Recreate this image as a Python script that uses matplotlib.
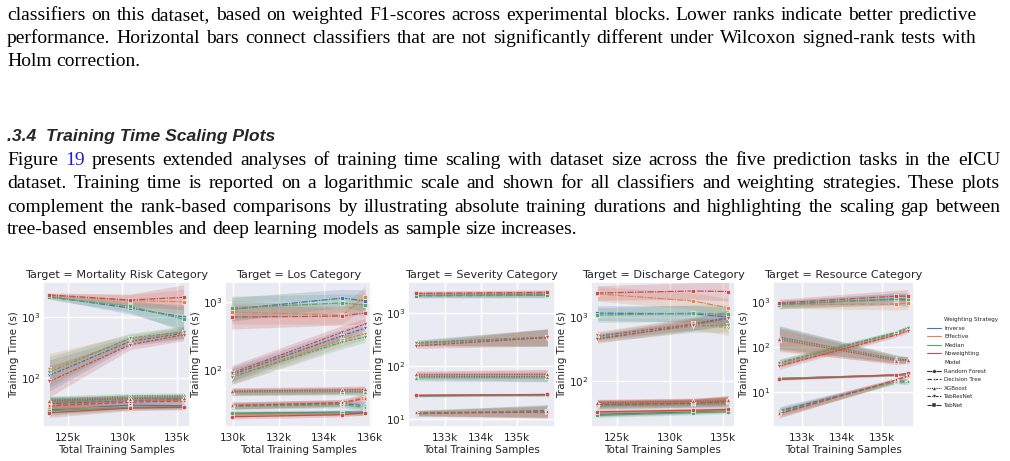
import matplotlib
matplotlib.use("Agg")
import matplotlib.pyplot as plt
import seaborn as sns
from matplotlib.lines import Line2D
from matplotlib.ticker import FuncFormatter

# ---- data ----
weightings = ["Inverse", "Effective", "Median", "Noweighting"]
models = ["Random Forest", "Decision Tree", "XGBoost", "TabResNet", "TabNet"]
targets = ["Mortality Risk Category", "Los Category", "Severity Category",
           "Discharge Category", "Resource Category"]

# Mortality
mort_x = [123.3e3, 130.7e3, 135.6e3]
mort_rf = [[30, 36, 35], [32, 33, 34], [29, 33, 34], [27, 32, 33]]
mort_dt = [[38, 42, 44], [36, 41, 43], [40, 45, 46], [35, 40, 42]]
mort_xgb = [[43, 48, 49], [41, 47, 48], [44, 51, 52], [42, 46, 47]]
mort_resnet = [[110, 400, 540], [140, 430, 560], [125, 450, 570], [88, 350, 510]]
mort_tabnet = [[2150, 1400, 1000], [2250, 1850, 1780], [2100, 1500, 920], [2300, 1900, 2100]]
mort_spread = [[1.2, 1.1, 1.1], [1.2, 1.1, 1.15], [1.15, 1.1, 1.1], [1.8, 1.2, 1.25], [1.08, 1.25, 1.6]]

# Los
los_x = [129.95e3, 134.8e3, 135.8e3]
los_rf = [[23, 24, 24], [22, 23, 23.5], [23, 23.5, 23], [20.5, 22, 23.5]]
los_dt = [[30, 32, 30], [30, 33, 40], [29, 31, 28], [30, 33, 38]]
los_xgb = [[48, 49, 48], [47, 50, 51], [47, 48, 47], [49, 51, 52]]
los_resnet = [[85, 320, 415], [80, 280, 340], [79, 258, 305], [90, 360, 475]]
los_tabnet = [[780, 1140, 1040], [710, 640, 1190], [815, 970, 900], [600, 620, 690]]
los_spread = [[1.08, 1.08, 1.08], [1.12, 1.12, 1.15], [1.12, 1.12, 1.12], [1.3, 1.25, 1.2], [1.5, 1.35, 1.45]]

# Severity
sev_x = [132.2e3, 135.85e3]
sev_rf = [[27.5, 28.5], [28, 29], [27.5, 28.5], [28, 29]]
sev_dt = [[12.5, 14.5], [13, 13.5], [13.2, 14], [12.8, 13.5]]
sev_xgb = [[64, 63], [68, 70], [60, 61], [70, 70]]
sev_resnet = [[275, 350], [265, 345], [270, 340], [240, 345]]
sev_tabnet = [[2150, 2200], [2300, 2350], [2100, 2150], [2350, 2450]]
sev_spread = [[1.05, 1.05], [1.12, 1.3], [1.15, 1.22], [1.12, 1.45], [1.1, 1.12]]

# Discharge
dis_x = [123.16e3, 132.2e3, 135.5e3]
dis_rf = [[30, 33, 35], [32, 34, 35], [29, 32, 33], [33, 35, 36]]
dis_dt = [[42, 45, 47], [44, 46, 50], [41, 44, 46], [43, 45, 48]]
dis_xgb = [[45, 47, 49], [46, 48, 51], [44, 46, 48], [46, 48, 50]]
dis_resnet = [[500, 780, 980], [520, 800, 670], [470, 720, 750], [450, 760, 950]]
dis_tabnet = [[1150, 1120, 1000], [2300, 1780, 1380], [1070, 1150, 1100], [2370, 2550, 2500]]
dis_spread = [[1.08, 1.08, 1.08], [1.15, 1.15, 1.2], [1.12, 1.12, 1.15], [1.15, 1.25, 1.3], [1.3, 1.35, 1.4]]

# Resource
res_x = [132.43e3, 135.35e3, 135.65e3]
res_rf = [[20, 24, 25], [20, 24, 24.5], [20, 23.5, 24], [19, 24, 26]]
res_dt = [[3.8, 17.5, 17], [3.4, 18, 22], [3.6, 17, 16.5], [3.3, 18.5, 23]]
res_xgb = [[166, 54, 52], [140, 52, 50], [160, 55, 50], [150, 50, 52]]
res_resnet = [[44, 205, 265], [42, 195, 250], [45, 210, 270], [38, 185, 230]]
res_tabnet = [[900, 1150, 1100], [880, 900, 950], [860, 1200, 1150], [950, 1350, 1350]]
res_spread = [[1.05, 1.05, 1.05], [1.25, 1.12, 1.15], [1.8, 1.22, 1.18], [1.2, 1.12, 1.12], [1.22, 1.35, 1.4]]

panel_x = [mort_x, los_x, sev_x, dis_x, res_x]
panel_y = [[mort_rf, mort_dt, mort_xgb, mort_resnet, mort_tabnet],
           [los_rf, los_dt, los_xgb, los_resnet, los_tabnet],
           [sev_rf, sev_dt, sev_xgb, sev_resnet, sev_tabnet],
           [dis_rf, dis_dt, dis_xgb, dis_resnet, dis_tabnet],
           [res_rf, res_dt, res_xgb, res_resnet, res_tabnet]]
panel_spread = [mort_spread, los_spread, sev_spread, dis_spread, res_spread]
xticks = [[125e3, 130e3, 135e3], [130e3, 132e3, 134e3, 136e3], [133e3, 134e3, 135e3],
          [125e3, 130e3, 135e3], [133e3, 134e3, 135e3]]

# ---- style / layout ----
sns.set_theme(style="darkgrid")
plt.rcParams['font.family'] = ['DejaVu Sans']
colors = ["#4C72B0", "#DD8452", "#55A868", "#C44E52"]
markers = ['o', '*', '^', 'v', 's']
dashes = [None, (4, 1.5), (1, 1), (3, 1.25, 1.5, 1.25), (5, 1, 1, 1)]

W, H = 1010, 461
fig = plt.figure(figsize=(W / 100, H / 100), dpi=100)
fig.patch.set_facecolor('white')

ax_left = [43, 225, 408, 591, 773]
ax_right = [190, 372, 555, 735, 914]
xlims = [(122.71e3, 136.19e3), (129.65e3, 136.1e3), (131.97e3, 136.06e3),
         (122.55e3, 136.13e3), (132.27e3, 135.8e3)]
ylims = [(15.7, 3750), (14.5, 1968), (7.06, 3846), (19.1, 3524), (1.67, 2783)]
top, bottom = 282, 427

for p in range(5):
    ax = fig.add_axes([ax_left[p] / W, 1 - bottom / H,
                       (ax_right[p] - ax_left[p]) / W, (bottom - top) / H])
    xs = panel_x[p]
    for wi in range(4):
        for mi in range(5):
            ys = panel_y[p][mi][wi]
            sp = panel_spread[p][mi]
            ax.fill_between(xs, [v / s for v, s in zip(ys, sp)],
                            [v * s for v, s in zip(ys, sp)],
                            color=colors[wi], alpha=0.2, linewidth=0)
            ln, = ax.plot(xs, ys, color=colors[wi], lw=0.9, marker=markers[mi],
                          ms=3.2 if mi != 1 else 4, mec='white', mew=0.4)
            if dashes[mi] is not None:
                ln.set_dashes(dashes[mi])
    ax.set_yscale('log')
    ax.set_xlim(*xlims[p])
    ax.set_ylim(*ylims[p])
    ax.set_xticks(xticks[p])
    ax.xaxis.set_major_formatter(FuncFormatter(lambda v, _: f"{v / 1000:.0f}k"))
    ax.tick_params(labelsize=7.6, pad=2, length=0, which='both')
    ax.tick_params(axis='x', pad=4)
    ax.set_title(f"Target = {targets[p]}", fontsize=8.1, pad=3)
    ax.set_xlabel("Total Training Samples", fontsize=7.5, labelpad=1.5)
    ax.set_ylabel("Training Time (s)", fontsize=7.5, labelpad=1.5)

# legend
handles = [Line2D([], [], linestyle='none')]
labels = ["Weighting Strategy"]
for c, w in zip(colors, weightings):
    handles.append(Line2D([], [], color=c, lw=0.8))
    labels.append(w)
handles.append(Line2D([], [], linestyle='none'))
labels.append("Model")
for m, mk, d in zip(models, markers, dashes):
    h = Line2D([], [], color='.2', lw=0.8, marker=mk, ms=2.6, mec='white', mew=0.3)
    if d is not None:
        h.set_dashes(d)
    handles.append(h)
    labels.append(m)
fig.legend(handles, labels, loc='center left', bbox_to_anchor=(927 / W, 1 - 362.5 / H),
           frameon=False, fontsize=4.1, handlelength=2.4, handletextpad=0.6,
           labelspacing=0.62, borderaxespad=0, borderpad=0)

# ---- page text ----
r = fig.canvas.get_renderer()


def justify(words, x0, x1, ybase, size, family, justify_line=True, **kw):
    arts = []
    for w in words:
        color = 'black'
        if isinstance(w, tuple):
            w, color = w
        arts.append(fig.text(0, 1 - ybase / H, w, fontsize=size, family=family,
                             color=color, va='baseline', **kw))
    widths = [a.get_window_extent(r).width for a in arts]
    t1 = fig.text(0, 0, "a a", fontsize=size, family=family)
    t2 = fig.text(0, 0, "aa", fontsize=size, family=family)
    space = t1.get_window_extent(r).width - t2.get_window_extent(r).width
    t1.remove()
    t2.remove()
    if justify_line and len(arts) > 1:
        gap = (x1 - x0 - sum(widths)) / (len(arts) - 1)
    else:
        gap = space
    x = x0
    for a, w in zip(arts, widths):
        a.set_x(x / W)
        x += w + gap


serif = 'Liberation Serif'
caption = ["classifiers on this dataset, based on weighted F1-scores across experimental blocks. Lower ranks indicate better predictive",
           "performance. Horizontal bars connect classifiers that are not significantly different under Wilcoxon signed-rank tests with",
           "Holm correction."]
for i, (line, yb) in enumerate(zip(caption, [20, 42.8, 65.5])):
    justify(line.split(), 7, 977, yb, 14, serif, justify_line=(i < 2))

fig.text(7 / W, 1 - 141 / H, ".3.4  Training Time Scaling Plots", fontsize=12.6,
         family='Liberation Sans', weight='bold', style='italic', va='baseline')

para = ["Figure 19 presents extended analyses of training time scaling with dataset size across the five prediction tasks in the eICU",
        "dataset. Training time is reported on a logarithmic scale and shown for all classifiers and weighting strategies. These plots",
        "complement the rank-based comparisons by illustrating absolute training durations and highlighting the scaling gap between",
        "tree-based ensembles and deep learning models as sample size increases."]
for i, (line, yb) in enumerate(zip(para, [165, 188, 211.5, 234.5])):
    words = [(w, '#1f1fd0') if (i == 0 and w == "19") else w for w in line.split()]
    justify(words, 7, 1000, yb, 14, serif, justify_line=(i < 3))

fig.savefig("out.png", dpi=100, facecolor='white')
